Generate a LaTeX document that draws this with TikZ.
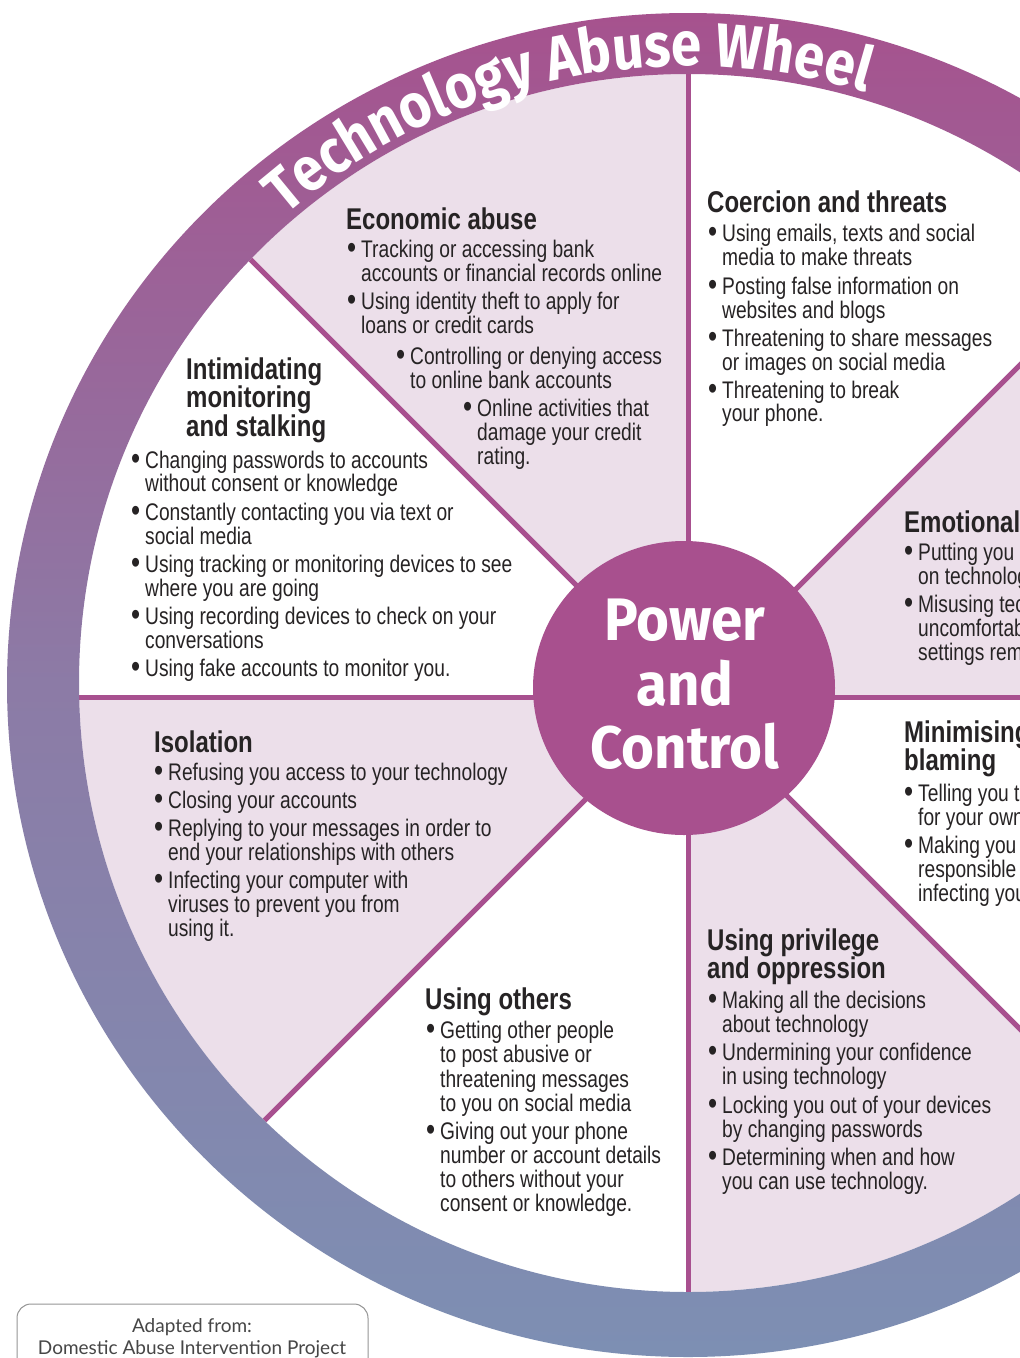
\documentclass[tikz,border=0pt]{standalone}
\usepackage{fontspec}
\usetikzlibrary{decorations.text}
\newfontfamily\bodyfont[FakeStretch=0.8]{Liberation Sans}
\newfontfamily\roundfont[FakeStretch=0.94]{Fira Sans}
\newfontfamily\titlefont[FakeStretch=0.88]{Fira Sans}
\newfontfamily\footfont{Lato}
\definecolor{ringtop}{RGB}{166,82,142}
\definecolor{ringmid}{RGB}{140,123,166}
\definecolor{ringbot}{RGB}{125,143,179}
\definecolor{spokec}{RGB}{168,80,143}
\definecolor{pinkfill}{RGB}{236,223,234}
\definecolor{centerc}{RGB}{168,80,142}
\definecolor{txt}{RGB}{38,35,36}
\definecolor{boxgray}{RGB}{150,150,150}
\definecolor{footgray}{RGB}{70,70,70}
\newcommand\bu{\makebox[0pt][r]{\raisebox{-1.5pt}{\scalebox{1.35}{\textbullet}}\hspace{5pt}}}
\begin{document}
\begin{tikzpicture}[x=1pt,y=-1pt,
  body/.style={font=\bodyfont\fontsize{24}{24.5}\selectfont, text=txt, inner sep=0pt, anchor=base west},
  head/.style={font=\bodyfont\bfseries\fontsize{30}{30}\selectfont, text=txt, inner sep=0pt, anchor=base west},
  centre/.style={font=\roundfont\bfseries\fontsize{60}{60}\selectfont, text=white, inner sep=0pt, anchor=base},
  foot/.style={font=\footfont\fontsize{19}{19}\selectfont, text=footgray, inner sep=0pt, anchor=base}]
\useasboundingbox (0,0) rectangle (1020,1358);
\clip (0,0) rectangle (1020,1358);
\fill[white] (0,0) rectangle (1020,1358);
% sectors and spokes
\begin{scope}
  \clip (688,683) circle[radius=609];
  \foreach \a/\b in {-135/-90,-225/-180,-315/-270,-45/0}
    \fill[pinkfill] (688,697) -- +(\a:1300) -- +(\b:1300) -- cycle;
  \foreach \a in {0,45,...,315}
    \draw[spokec, line width=5pt] (688,697) -- +(\a:700);
\end{scope}
% outer ring
\shade[top color=ringtop, bottom color=ringbot, middle color=ringmid, even odd rule]
  (688,685) ellipse[x radius=681, y radius=672] (688,683) circle[radius=609];
% title
\path[decorate, decoration={text along path, text align=center, text color=white,
  text={|\titlefont\bfseries\fontsize{62}{62}\selectfont|Technology Abuse Wheel}}]
  (201.8,303.1) arc[start angle=-142, end angle=-62, radius=617];
% centre
\fill[centerc] (684,688) ellipse[x radius=151, y radius=147];
\node[centre] (pw) at (685,640) {Power};
\node[centre] (an) at (685,705) {and};
\node[centre] (ct) at (685,768) {Control};
% Economic abuse
\node[head] (h-eco) at (346,229) {Economic abuse};
\foreach \x/\y/\t [count=\i] in {361/257/{\bu Tracking or accessing bank},361/281/{accounts or financial records online},361/309/{\bu Using identity theft to apply for},361/333/{loans or credit cards},410/364/{\bu Controlling or denying access},410/388/{to online bank accounts},477/416/{\bu Online activities that},477/440/{damage your credit},477/464/{rating.}}
  \node[body] (eco\i) at (\x,\y) {\t};
% Coercion and threats
\node[head] (h-coe) at (707,212) {Coercion and threats};
\foreach \y/\t [count=\i] in {241/{\bu Using emails, texts and social},265/{media to make threats},294/{\bu Posting false information on},318/{websites and blogs},346/{\bu Threatening to share messages},370/{or images on social media},398/{\bu Threatening to break},421/{your phone.}}
  \node[body] (coe\i) at (722,\y) {\t};
% Intimidating
\node[head] (h-int1) at (186,379) {Intimidating};
\node[head] (h-int2) at (186,407) {monitoring};
\node[head] (h-int3) at (186,436) {and stalking};
\foreach \y/\t [count=\i] in {468/{\bu Changing passwords to accounts},491/{without consent or knowledge},520/{\bu Constantly contacting you via text or},544/{social media},572/{\bu Using tracking or monitoring devices to see},596/{where you are going},624/{\bu Using recording devices to check on your},648/{conversations},676/{\bu Using fake accounts to monitor you.}}
  \node[body] (int\i) at (145,\y) {\t};
% Isolation
\node[head] (h-iso) at (154,752) {Isolation};
\foreach \y/\t [count=\i] in {780/{\bu Refusing you access to your technology},808/{\bu Closing your accounts},836/{\bu Replying to your messages in order to},860/{end your relationships with others},888/{\bu Infecting your computer with},912/{viruses to prevent you from},936/{using it.}}
  \node[body] (iso\i) at (168,\y) {\t};
% Using others
\node[head] (h-oth) at (425,1009) {Using others};
\foreach \y/\t [count=\i] in {1038/{\bu Getting other people},1062/{to post abusive or},1087/{threatening messages},1111/{to you on social media},1139/{\bu Giving out your phone},1163/{number or account details},1187/{to others without your},1211/{consent or knowledge.}}
  \node[body] (oth\i) at (440,\y) {\t};
% Privilege
\node[head] (h-pri1) at (707,950) {Using privilege};
\node[head] (h-pri2) at (707,978) {and oppression};
\foreach \y/\t [count=\i] in {1008/{\bu Making all the decisions},1032/{about technology},1060/{\bu Undermining your confidence},1084/{in using technology},1113/{\bu Locking you out of your devices},1137/{by changing passwords},1165/{\bu Determining when and how},1189/{you can use technology.}}
  \node[body] (pri\i) at (722,\y) {\t};
% Emotional
\node[head] (h-emo) at (904,532) {Emotional};
\foreach \y/\t [count=\i] in {560/{\bu Putting you},584/{on technolog},612/{\bu Misusing tec},636/{uncomfortab},660/{settings rem}}
  \node[body] (emo\i) at (918,\y) {\t};
% Minimising
\node[head] (h-min1) at (904,742) {Minimising};
\node[head] (h-min2) at (904,770) {blaming};
\foreach \y/\t [count=\i] in {801/{\bu Telling you t},825/{for your own},853/{\bu Making you},877/{responsible},901/{infecting you}}
  \node[body] (min\i) at (918,\y) {\t};
% footer
\draw[boxgray, line width=1pt, rounded corners=14pt] (17,1304) rectangle (368,1420);
\node[foot] (f1) at (192,1332) {Adapted from:};
\node[foot] (f2) at (192,1354) {Domestic Abuse Intervention Project};
\end{tikzpicture}
\end{document}
